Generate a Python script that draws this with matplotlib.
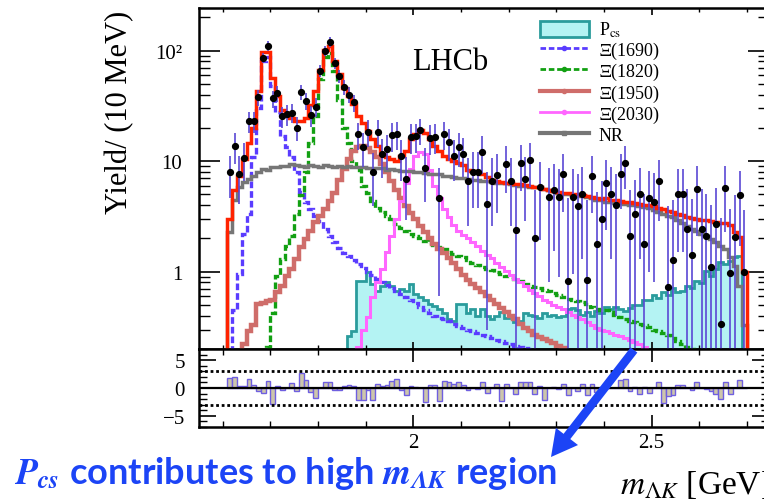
import numpy as np
import matplotlib.pyplot as plt
from matplotlib.lines import Line2D
from matplotlib.patches import Patch, FancyArrow
from matplotlib.ticker import MultipleLocator, NullFormatter, FixedLocator, FormatStrFormatter
from matplotlib.transforms import IdentityTransform

plt.rcParams['font.family'] = ['Liberation Serif', 'DejaVu Serif']
plt.rcParams['mathtext.fontset'] = 'stix'

# Binning: 10 MeV bins starting at the Lambda K threshold
m_lo = 1.61
bin_w = 0.01
n_bins = 109

# sWeighted data yield per bin (nan = empty / non-positive bin)
data = [7.9, 13.7, 7.6, 10.6, 23, 23, 38, 86, 110, 37,
        41, 25.6, 26.5, 27.5, 20.1, 42, 35, 26, 31, 66,
        100, 120, 77, 59, 47, 40, 34, 17.5, 13.4, 18.4,
        7.9, 18.4, 11.5, 12.8, 17.1, 17.5, 11.1, 6.95, 16.6, 16.8,
        19, 8.75, 16.3, 16.5, 4.6, 17.5, 14.9, 11.1, 13.4, 11.7,
        6.6, 8.0, 8.0, 12.2, 4.1, 6.6, 7.5, np.nan, 9.5, 6.6,
        2.4, 9.7, 6.9, 10.2, 2.0, 5.85, np.nan, 4.7, 5.45, 4.7,
        7.6, 0.83, 4.75, 3.9, 5.1, 0.84, 7.3, 1.8, 3.0, 6.3,
        5.1, 4.0, 7.6, 9.7, 2.1, 3.3, 5.0, 1.78, 4.6, 4.3,
        6.6, np.nan, 0.73, 1.27, 5.0, 5.0, 2.43, 1.41, 5.6, 2.46,
        2.1, 1.1, 2.7, 0.34, 5.7, 0.97, 2.07, 4.9, 1.0]
data_err = [3.3, 4.3, 3.5, 4.0, 5.0, 5.0, 6.5, 9.5, 11, 6.5,
            6.5, 5.5, 5.5, 5.5, 5.0, 6.5, 6.0, 5.5, 6.0, 8.5,
            10.5, 11.5, 9.0, 8.0, 7.0, 6.5, 6.0, 4.8, 4.5, 5.0,
            4.0, 5.0, 4.5, 4.5, 5.0, 5.0, 4.5, 4.0, 5.0, 5.0,
            5.0, 4.5, 5.0, 5.0, 4.0, 5.0, 4.8, 4.5, 4.6, 4.5,
            4.0, 4.2, 4.2, 4.6, 3.8, 4.0, 4.1, np.nan, 4.3, 4.0,
            3.6, 4.3, 4.0, 4.3, 3.5, 3.9, np.nan, 3.9, 3.9, 3.8,
            4.1, 3.8, 3.8, 3.7, 3.8, 3.6, 3.9, 3.5, 3.6, 3.9,
            3.8, 3.6, 3.9, 4.1, 3.4, 3.5, 3.7, 3.3, 3.6, 3.5,
            3.7, np.nan, 3.2, 3.2, 3.5, 3.5, 3.2, 3.1, 3.5, 3.1,
            3.0, 2.9, 3.0, 2.7, 3.4, 2.7, 2.9, 3.2, 2.6]

# Total fit
total = [3.0, 5.5, 7.4, 10.5, 14.5, 20, 43, 97, 97, 57,
         39, 29, 27.5, 24.7, 23, 23, 24.7, 32, 43, 67,
         102, 110, 80, 61, 46, 39, 32.6, 25.6, 22.3, 18.7,
         15.8, 13.7, 11.7, 10.8, 10.4, 10.0, 11.1, 12.3, 15.8, 17.5,
         19.0, 18.1, 15.8, 13.7, 12.3, 11.1, 10.5, 10.0, 9.7, 9.3,
         8.4, 8.1, 7.9, 7.6, 7.2, 6.7, 6.6, 6.5, 6.4, 6.4,
         6.2, 6.2, 6.1, 6.0, 5.9, 5.8, 5.6, 5.5, 5.4, 5.3,
         5.2, 5.2, 5.1, 5.0, 4.95, 4.85, 4.75, 4.65, 4.55, 4.6,
         4.5, 4.45, 4.35, 4.3, 4.25, 4.15, 4.1, 4.05, 4.0, 3.9,
         3.75, 3.7, 3.55, 3.45, 3.35, 3.25, 3.1, 3.05, 3.0, 2.95,
         2.95, 2.85, 2.8, 2.75, 2.75, 2.65, 2.3, 2.05, 1.0]

# Non-resonant
nr = [2.3, 4.5, 5.8, 6.5, 6.9, 7.4, 7.9, 8.5, 8.4, 8.8,
      8.8, 9.0, 9.0, 9.4, 9.3, 9.0, 8.9, 9.3, 9.0, 8.9,
      9.2, 9.0, 8.9, 9.1, 8.8, 9.0, 8.9, 8.8, 8.9, 8.7,
      8.7, 8.6, 8.6, 8.4, 8.5, 8.3, 8.2, 8.1, 8.1, 7.9,
      7.9, 7.8, 7.7, 7.6, 7.6, 7.4, 7.4, 7.2, 7.1, 7.0,
      6.9, 6.8, 6.8, 6.6, 6.6, 6.5, 6.4, 6.3, 6.3, 6.2,
      6.1, 6.0, 6.0, 5.9, 5.8, 5.8, 5.6, 5.5, 5.4, 5.2,
      5.1, 5.0, 4.95, 4.85, 4.8, 4.7, 4.6, 4.5, 4.45, 4.3,
      4.25, 4.2, 4.15, 4.1, 4.05, 4.0, 3.95, 3.85, 3.75, 3.6,
      3.45, 3.35, 3.2, 3.1, 2.95, 2.75, 2.6, 2.45, 2.35, 2.2,
      2.1, 1.97, 1.85, 1.7, 1.6, 1.35, 1.13, 0.75, 0.33]

# Pcs component, from bin 25
pcs_start = 25
pcs = [0.26, 0.29, 0.83, 0.83, 0.99, 0.77, 0.67, 0.75, 0.80, 0.75,
       0.67, 0.70, 0.67, 0.77, 0.63, 0.59, 0.55, 0.51, 0.49, 0.46,
       0.42, 0.37, 0.36, 0.51, 0.51, 0.42, 0.46, 0.40, 0.46, 0.40,
       0.37, 0.40, 0.43, 0.38, 0.41, 0.35, 0.36, 0.42, 0.41, 0.40,
       0.38, 0.42, 0.40, 0.41, 0.39, 0.40, 0.46, 0.47, 0.45, 0.41,
       0.43, 0.40, 0.44, 0.42, 0.48, 0.46, 0.48, 0.46, 0.44, 0.47,
       0.50, 0.50, 0.55, 0.55, 0.61, 0.58, 0.65, 0.62, 0.72, 0.66,
       0.67, 0.75, 0.71, 0.83, 0.79, 1.02, 0.92, 1.06, 1.22, 1.18,
       1.26, 1.35, 1.39]

# Xi(1690), from bin 0
xi1690_start = 0
xi1690 = [0.1, 0.45, 0.95, 2.2, 3.3, 11, 30, 80, 88, 48,
          28, 17, 13.5, 10.8, 7.9, 5.3, 4.3, 3.7, 3.2, 2.85,
          2.45, 2.1, 1.85, 1.65, 1.48, 1.38, 1.27, 1.17, 1.08, 1.0,
          0.93, 0.86, 0.81, 0.76, 0.71, 0.67, 0.63, 0.59, 0.55, 0.52,
          0.48, 0.45, 0.42, 0.40, 0.385, 0.37, 0.355, 0.34, 0.325, 0.31,
          0.30, 0.29, 0.28, 0.27, 0.26, 0.25, 0.24, 0.235, 0.228, 0.22,
          0.215, 0.21, 0.205, 0.2]

# Xi(1820), from bin 8
xi1820_start = 8
xi1820 = [0.21, 0.42, 0.92, 1.3, 1.72, 2.1, 3.3, 4.9, 7.9, 14.7,
          25.6, 55, 88, 95, 65, 36, 20, 14.7, 10, 8.4,
          6.0, 5.2, 4.4, 3.8, 3.45, 3.2, 3.0, 2.7, 2.5, 2.35,
          2.2, 2.1, 2.0, 1.9, 1.82, 1.75, 1.68, 1.6, 1.52, 1.45,
          1.4, 1.35, 1.28, 1.2, 1.15, 1.1, 1.06, 1.03, 1.0, 0.96,
          0.92, 0.89, 0.86, 0.82, 0.78, 0.75, 0.73, 0.71, 0.69, 0.67,
          0.64, 0.62, 0.59, 0.57, 0.56, 0.545, 0.53, 0.51, 0.48, 0.46,
          0.455, 0.45, 0.43, 0.41, 0.39, 0.375, 0.36, 0.35, 0.34, 0.33,
          0.315, 0.30, 0.29, 0.28, 0.265, 0.25, 0.235, 0.22, 0.21, 0.2]

# Xi(1950), from bin 3
xi1950_start = 3
xi1950 = [0.22, 0.29, 0.33, 0.51, 0.52, 0.54, 0.56, 0.65, 0.75, 0.92,
          1.05, 1.3, 1.67, 1.97, 2.34, 2.8, 3.2, 3.7, 4.4, 5.2,
          6.8, 8.5, 10.5, 12.3, 13.5, 13.7, 13.2, 12.0, 10.8, 9.4,
          8.0, 6.6, 5.5, 4.6, 3.9, 3.4, 3.0, 2.6, 2.3, 2.0,
          1.8, 1.62, 1.47, 1.32, 1.2, 1.05, 0.93, 0.84, 0.77, 0.71,
          0.65, 0.6, 0.55, 0.51, 0.47, 0.43, 0.40, 0.37, 0.34, 0.31,
          0.29, 0.27, 0.255, 0.245, 0.235, 0.225, 0.215, 0.205]

# Xi(2030), from bin 27
xi2030_start = 27
xi2030 = [0.21, 0.3, 0.39, 0.59, 0.8, 1.05, 1.5, 2.1, 3.0, 4.4,
          6.3, 8.5, 11.1, 12.0, 11.6, 8.4, 6.0, 4.6, 3.7, 3.1,
          2.65, 2.35, 2.15, 2.0, 1.85, 1.7, 1.55, 1.42, 1.32, 1.2,
          1.1, 1.02, 0.94, 0.86, 0.8, 0.74, 0.68, 0.64, 0.6, 0.56,
          0.53, 0.5, 0.48, 0.46, 0.43, 0.41, 0.39, 0.37, 0.35, 0.33,
          0.31, 0.3, 0.29, 0.28, 0.27, 0.26, 0.25, 0.24, 0.23, 0.22,
          0.21]

# Pulls (data - fit) / error
pulls = [1.8, 2.0, 0.4, 0.4, 1.6, 0.5, -0.6, -0.9, 1.3, -2.85,
         0.4, -0.3, 0.0, 0.9, -0.55, 2.7, 1.4, -0.7, -1.8, 0.0,
         1.0, 1.0, -0.4, -0.4, 0.3, 0.55, 0.4, -2.1, -2.1, -0.4,
         -2.2, 0.7, 0.3, 0.5, 1.3, 1.6, -0.3, -1.3, 0.3, 0.2,
         0.0, -2.55, 0.6, 0.6, -2.3, 1.3, 1.1, 0.7, 1.1, 0.5,
         -0.3, 0.0, -0.1, 1.1, -0.9, 0.0, 0.8, -2.4, 0.8, 0.0,
         -1.0, 1.1, 1.1, 1.1, -1.1, 0.3, -2.1, 0.0, 0.1, -0.1,
         0.8, -1.3, 0.0, -0.55, 0.8, -1.3, 0.8, -0.7, 0.0, 0.1,
         0.0, 0.0, 1.4, 1.6, -0.55, 0.2, -1.0, 0.2, -0.85, 0.0,
         1.1, -2.7, -1.45, -1.2, 0.5, 0.5, 0.0, -0.3, 1.1, 0.0,
         -0.1, -0.55, -1.0, -1.9, 1.1, -1.0, 0.0, 1.4, 0.0]

edges = m_lo + bin_w * np.arange(n_bins + 1)
centers = 0.5 * (edges[:-1] + edges[1:])


def full_hist(vals, start):
    h = np.full(n_bins, 1e-3)
    h[start:start + len(vals)] = vals
    return h


W, H = 764, 502
fig = plt.figure(figsize=(W / 100, H / 100), dpi=100)
ax = fig.add_axes([199 / W, 1 - 350 / H, (769 - 199) / W, (350 - 9) / H])
rax = fig.add_axes([199 / W, 1 - 428 / H, (769 - 199) / W, 78 / H])

xmin = 1.5503
xmax = 2.0 + (769 - 413.3) / 476.5

# Pcs (filled)
pcs_h = full_hist(pcs, pcs_start)
ax.stairs(pcs_h, edges, baseline=1e-3, fill=True, color='#b4f3f3', zorder=1)
ax.stairs(pcs_h, edges, baseline=1e-3, color='#2a9c9c', lw=2.0, zorder=2)

ax.stairs(full_hist(xi1690, xi1690_start), edges, baseline=1e-3, color='#5a3cff',
          lw=2.4, ls=(0, (2.0, 0.9)), zorder=3)
ax.stairs(full_hist(xi1820, xi1820_start), edges, baseline=1e-3, color='#12a012',
          lw=2.4, ls=(0, (2.0, 0.9)), zorder=3)
ax.stairs(full_hist(xi1950, xi1950_start), edges, baseline=1e-3, color='#cf6d6a',
          lw=3.2, zorder=3)
ax.stairs(full_hist(xi2030, xi2030_start), edges, baseline=1e-3, color='#ff66ff',
          lw=2.2, zorder=3)
ax.stairs(np.array(nr), edges, baseline=1e-3, color='#767676', lw=2.5, zorder=4)
ax.stairs(np.array(total), edges, baseline=1e-3, color='#ff2200', lw=2.5, zorder=5)

ax.errorbar(centers, data, yerr=data_err, fmt='o', color='black', ms=4.2,
            ecolor='#5a48d4', elinewidth=1.2, capsize=0, zorder=6)

ax.set_yscale('log')
ax.set_xlim(xmin, xmax)
ax.set_ylim(0.2, 243)
ax.set_yticks([1, 10, 100])
ax.set_yticklabels(['1', '10', '10²'])
ax.yaxis.set_minor_formatter(NullFormatter())
ax.xaxis.set_major_locator(MultipleLocator(0.5))
ax.xaxis.set_minor_locator(MultipleLocator(0.1))
ax.tick_params(axis='both', which='both', direction='in', top=True, right=True,
               labelbottom=False, labelsize=15)
ax.tick_params(axis='y', which='major', length=15, width=1.2, pad=12)
ax.tick_params(axis='y', which='minor', length=8, width=1.0)
ax.tick_params(axis='x', which='major', length=5, width=1.2)
ax.tick_params(axis='x', which='minor', length=3, width=1.0)
for s in ax.spines.values():
    s.set_linewidth(1.8)

fig.text(450 / W, 1 - 63 / H, 'LHCb', fontsize=22, ha='center', va='center')

handles = [
    Patch(facecolor='#b4f3f3', edgecolor='#2a9c9c', lw=2),
    Line2D([], [], color='#5a3cff', lw=2, ls=(0, (2.0, 1.0)), marker='o', ms=3),
    Line2D([], [], color='#12a012', lw=2, ls=(0, (2.0, 1.0)), marker='o', ms=3),
    Line2D([], [], color='#cf6d6a', lw=3, marker='o', ms=3),
    Line2D([], [], color='#ff66ff', lw=2, marker='o', ms=3),
    Line2D([], [], color='#767676', lw=3, marker='s', ms=3),
]
labels = [r'P$_{\rm cs}$', r'$\Xi$(1690)', r'$\Xi$(1820)', r'$\Xi$(1950)',
          r'$\Xi$(2030)', 'NR']
fig.legend(handles, labels, loc='upper left', bbox_to_anchor=(540 / W, 1 - 21 / H),
           frameon=False, fontsize=13, numpoints=1, handlelength=2.7,
           handleheight=0.95, handletextpad=0.55, labelspacing=0.02,
           borderpad=0, borderaxespad=0)

# Residual panel
rax.bar(centers, pulls, width=bin_w, color='#cdc6ab', edgecolor='#6f5fe0', lw=1.0,
        zorder=2)
rax.axhline(0, color='black', lw=1.6, zorder=3)
rax.axhline(3, color='black', lw=2.0, ls=(0, (1, 1)), zorder=3)
rax.axhline(-3, color='black', lw=2.0, ls=(0, (1, 1)), zorder=3)
rax.set_xlim(xmin, xmax)
rax.set_ylim(-7, 7)
rax.yaxis.set_major_locator(FixedLocator([-5, 0, 5]))
rax.yaxis.set_minor_locator(MultipleLocator(1))
rax.xaxis.set_major_locator(MultipleLocator(0.5))
rax.xaxis.set_minor_locator(MultipleLocator(0.1))
rax.xaxis.set_major_formatter(FormatStrFormatter('%g'))
rax.tick_params(axis='both', which='both', direction='in', top=True, right=True,
                labelsize=15)
rax.tick_params(axis='y', which='major', length=12, width=1.2, pad=10)
rax.tick_params(axis='y', which='minor', length=6, width=1.0)
rax.tick_params(axis='x', which='major', length=9, width=1.2, pad=4)
rax.tick_params(axis='x', which='minor', length=4, width=1.0)
for s in rax.spines.values():
    s.set_linewidth(1.8)

fig.text(120 / W, 1 - 112 / H, 'Yield/ (10 MeV)', fontsize=22, rotation=90,
         ha='center', va='center')
fig.text(620 / W, 1 - 485 / H, r'$m_{\mathit{\Lambda K}}$ [GeV]', fontsize=24,
         ha='left', va='center')

# Annotation
blue = '#1c44f6'
fig.text(14 / W, 1 - 484 / H,
         r'$\mathbfit{P}_{\mathbfit{cs}}$ contributes to high $\mathbfit{m}_{\mathbfit{\Lambda K}}$ region',
         fontsize=26, color=blue, family='Lato', weight='bold', va='baseline',
         math_fontfamily='stix')
arrow = FancyArrow(634, H - 351, -83, -107, width=8.5, head_width=28, head_length=26,
                   length_includes_head=True, color=blue, lw=0,
                   transform=IdentityTransform(), zorder=10)
fig.add_artist(arrow)

fig.savefig('out.png', dpi=100)
